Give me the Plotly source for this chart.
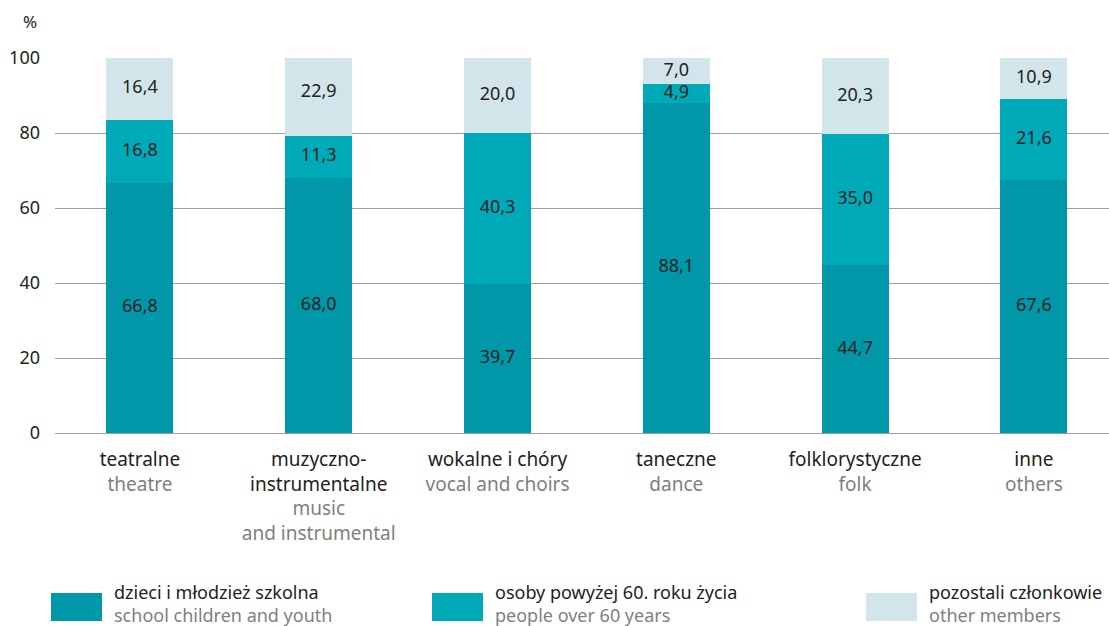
import plotly.graph_objects as go

categories_pl = ["teatralne", "muzyczno-<br>instrumentalne", "wokalne i chóry", "taneczne", "folklorystyczne", "inne"]
categories_en = ["theatre", "music<br>and instrumental", "vocal and choirs", "dance", "folk", "others"]

series_pl = ["dzieci i młodzież szkolna", "osoby powyżej 60. roku życia", "pozostali członkowie"]
series_en = ["school children and youth", "people over 60 years", "other members"]

children = [66.8, 68.0, 39.7, 88.1, 44.7, 67.6]
over60 = [16.8, 11.3, 40.3, 4.9, 35.0, 21.6]
others = [16.4, 22.9, 20.0, 7.0, 20.3, 10.9]

y_ticks = [0, 20, 40, 60, 80, 100]

colors = ["#0098A8", "#00AAB8", "#D1E5EA"]
GRAY = "#808080"
DARK = "#222222"
FONT = "Noto Sans"

W, H = 1109, 626
ML, MT, MB, MR = 55, 58, 193, 0
PW = W - ML - MR
PH = H - MT - MB

xcats = [f"{pl}<br><span style='color:{GRAY}'>{en}</span>" for pl, en in zip(categories_pl, categories_en)]

fig = go.Figure()
series_vals = [children, over60, others]
base = [0.0] * len(children)
for name, vals, col in zip(series_pl, series_vals, colors):
    fig.add_trace(go.Bar(
        x=xcats, y=vals, name=name, marker=dict(color=col, line=dict(width=0)),
        width=0.375, showlegend=False, hoverinfo="skip"))
    centers = [b + v / 2 for b, v in zip(base, vals)]
    fig.add_trace(go.Scatter(
        x=xcats, y=centers, mode="text",
        text=[f"{v:.1f}".replace(".", ",") for v in vals],
        textfont=dict(family=FONT, size=18, color=DARK),
        textposition="middle center", showlegend=False, hoverinfo="skip", cliponaxis=False))
    base = [b + v for b, v in zip(base, vals)]

fig.update_layout(
    barmode="stack",
    width=W, height=H,
    margin=dict(l=ML, r=MR, t=MT, b=MB, autoexpand=False),
    paper_bgcolor="white", plot_bgcolor="white",
    font=dict(family=FONT, size=18, color=DARK),
    xaxis=dict(range=[-0.475, 5.42], showgrid=False, zeroline=False, showline=False,
               ticks="", tickfont=dict(family=FONT, size=19, color=DARK), ticklabelstandoff=13),
    yaxis=dict(range=[0, 100], tickvals=y_ticks, showgrid=True, gridcolor="#a0a0a0", gridwidth=1,
               zeroline=True, zerolinecolor="#a0a0a0", zerolinewidth=1, showline=False, ticks="",
               tickfont=dict(family=FONT, size=18, color=DARK), ticklabelstandoff=14),
)

fig.add_annotation(text="%", xref="paper", yref="paper", x=(30 - ML) / PW, y=(H - MB - 22) / PH,
                   xanchor="center", yanchor="middle", showarrow=False,
                   font=dict(family=FONT, size=17, color=DARK))

legend_x = [51, 432, 866]
for i, (pl, en, col) in enumerate(zip(series_pl, series_en, colors)):
    x0 = legend_x[i]
    fig.add_shape(type="rect", xref="paper", yref="paper",
                  x0=(x0 - ML) / PW, x1=(x0 + 51 - ML) / PW,
                  y0=(H - MB - 593) / PH, y1=(H - MB - 621) / PH,
                  fillcolor=col, line=dict(width=0))
    fig.add_annotation(text=f"{pl}<br><span style='color:{GRAY}'>{en}</span>",
                       xref="paper", yref="paper", x=(x0 + 61 - ML) / PW, y=(H - MB - 603) / PH,
                       xanchor="left", yanchor="middle", align="left", showarrow=False,
                       font=dict(family=FONT, size=18, color=DARK))

fig.write_html("out.html", config={"displayModeBar": False},
               post_script="document.body.style.margin='0';document.body.style.overflow='hidden';")
